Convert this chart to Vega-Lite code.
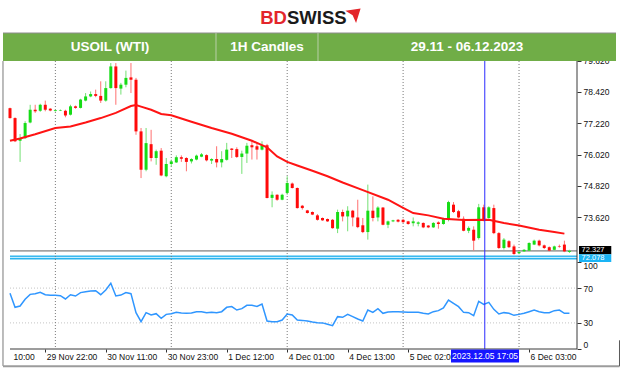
{
  "$schema": "https://vega.github.io/schema/vega-lite/v6.json",
  "width": 567,
  "height": 349,
  "autosize": {"type": "none"},
  "padding": {"left": 10, "top": 0, "right": 47, "bottom": 22},
  "background": "white",
  "config": {
    "view": {"stroke": null},
    "axis": {"labelFont": "Liberation Sans", "labelFontSize": 8.5, "labelColor": "#111111", "tickColor": "#333333", "domain": false, "grid": false, "zindex": 0, "labelFlush": false, "labelOverlap": false}
  },
  "datasets": {
    "candles": [
      {"i":0,"o":77.80,"h":77.82,"l":77.40,"c":77.42},
      {"i":1,"o":77.42,"h":77.45,"l":76.50,"c":76.53},
      {"i":2,"o":76.55,"h":76.81,"l":75.74,"c":76.65},
      {"i":3,"o":76.65,"h":77.30,"l":76.62,"c":77.23},
      {"i":4,"o":77.25,"h":77.93,"l":77.22,"c":77.74},
      {"i":5,"o":77.74,"h":77.93,"l":77.62,"c":77.68},
      {"i":6,"o":77.70,"h":77.97,"l":77.66,"c":77.93},
      {"i":7,"o":77.93,"h":78.09,"l":77.68,"c":77.74},
      {"i":8,"o":77.78,"h":77.80,"l":77.68,"c":77.71},
      {"i":9,"o":77.69,"h":77.74,"l":77.67,"c":77.72},
      {"i":10,"o":77.71,"h":77.75,"l":77.69,"c":77.73},
      {"i":11,"o":77.70,"h":77.74,"l":77.45,"c":77.52},
      {"i":12,"o":77.55,"h":77.93,"l":77.52,"c":77.87},
      {"i":13,"o":77.87,"h":77.90,"l":77.78,"c":77.81},
      {"i":14,"o":77.81,"h":78.16,"l":77.79,"c":78.13},
      {"i":15,"o":78.09,"h":78.38,"l":78.06,"c":78.25},
      {"i":16,"o":78.25,"h":78.44,"l":78.22,"c":78.34},
      {"i":17,"o":78.34,"h":78.51,"l":78.22,"c":78.27},
      {"i":18,"o":78.27,"h":78.83,"l":78.00,"c":78.09},
      {"i":19,"o":78.09,"h":78.83,"l":78.05,"c":78.57},
      {"i":20,"o":78.57,"h":79.53,"l":78.55,"c":79.40},
      {"i":21,"o":79.40,"h":79.53,"l":77.93,"c":78.57},
      {"i":22,"o":78.55,"h":78.77,"l":78.32,"c":78.70},
      {"i":23,"o":78.70,"h":79.24,"l":78.60,"c":78.96},
      {"i":24,"o":78.98,"h":79.53,"l":78.38,"c":78.89},
      {"i":25,"o":78.89,"h":78.96,"l":76.78,"c":76.91},
      {"i":26,"o":76.91,"h":77.04,"l":75.12,"c":75.44},
      {"i":27,"o":75.44,"h":77.04,"l":75.38,"c":76.46},
      {"i":28,"o":76.42,"h":76.97,"l":75.76,"c":75.89},
      {"i":29,"o":75.89,"h":76.21,"l":75.63,"c":76.15},
      {"i":30,"o":76.17,"h":76.27,"l":75.19,"c":75.22},
      {"i":31,"o":75.19,"h":75.89,"l":75.15,"c":75.66},
      {"i":32,"o":75.66,"h":75.83,"l":75.55,"c":75.76},
      {"i":33,"o":75.72,"h":75.99,"l":75.70,"c":75.92},
      {"i":34,"o":75.92,"h":75.99,"l":75.74,"c":75.86},
      {"i":35,"o":75.89,"h":75.92,"l":75.38,"c":75.74},
      {"i":36,"o":75.76,"h":75.88,"l":75.68,"c":75.85},
      {"i":37,"o":75.83,"h":76.02,"l":75.80,"c":75.98},
      {"i":38,"o":75.94,"h":76.08,"l":75.92,"c":76.03},
      {"i":39,"o":76.00,"h":76.03,"l":75.76,"c":75.80},
      {"i":40,"o":75.79,"h":75.88,"l":75.66,"c":75.85},
      {"i":41,"o":75.85,"h":76.34,"l":75.53,"c":75.72},
      {"i":42,"o":75.72,"h":76.15,"l":75.53,"c":75.85},
      {"i":43,"o":75.82,"h":76.47,"l":75.79,"c":76.21},
      {"i":44,"o":76.25,"h":76.27,"l":75.89,"c":76.20},
      {"i":45,"o":76.23,"h":76.30,"l":75.89,"c":75.93},
      {"i":46,"o":75.93,"h":76.17,"l":75.28,"c":76.06},
      {"i":47,"o":76.06,"h":76.47,"l":75.70,"c":76.36},
      {"i":48,"o":76.38,"h":76.55,"l":75.83,"c":76.30},
      {"i":49,"o":76.34,"h":76.47,"l":75.83,"c":76.21},
      {"i":50,"o":76.21,"h":76.53,"l":76.18,"c":76.38},
      {"i":51,"o":76.38,"h":76.43,"l":74.34,"c":74.36},
      {"i":52,"o":74.36,"h":74.61,"l":74.00,"c":74.48},
      {"i":53,"o":74.48,"h":74.50,"l":74.25,"c":74.29},
      {"i":54,"o":74.29,"h":74.52,"l":74.27,"c":74.48},
      {"i":55,"o":74.55,"h":75.19,"l":74.48,"c":74.93},
      {"i":56,"o":74.91,"h":74.95,"l":74.72,"c":74.74},
      {"i":57,"o":74.74,"h":74.76,"l":73.95,"c":73.97},
      {"i":58,"o":74.06,"h":74.09,"l":73.91,"c":73.97},
      {"i":59,"o":73.88,"h":73.90,"l":73.76,"c":73.78},
      {"i":60,"o":73.82,"h":73.84,"l":73.70,"c":73.72},
      {"i":61,"o":73.69,"h":73.74,"l":73.49,"c":73.52},
      {"i":62,"o":73.59,"h":73.61,"l":73.48,"c":73.50},
      {"i":63,"o":73.55,"h":73.57,"l":73.44,"c":73.46},
      {"i":64,"o":73.52,"h":73.55,"l":73.18,"c":73.20},
      {"i":65,"o":73.18,"h":73.91,"l":73.01,"c":73.82},
      {"i":66,"o":73.82,"h":73.91,"l":73.46,"c":73.65},
      {"i":67,"o":73.65,"h":74.04,"l":73.08,"c":73.87},
      {"i":68,"o":73.87,"h":73.90,"l":73.27,"c":73.61},
      {"i":69,"o":73.61,"h":74.29,"l":73.20,"c":73.24},
      {"i":70,"o":73.31,"h":73.59,"l":73.01,"c":73.05},
      {"i":71,"o":73.05,"h":74.87,"l":72.76,"c":73.87},
      {"i":72,"o":73.87,"h":74.42,"l":73.46,"c":73.59},
      {"i":73,"o":73.61,"h":74.04,"l":73.46,"c":73.99},
      {"i":74,"o":73.99,"h":74.01,"l":73.31,"c":73.33},
      {"i":75,"o":73.33,"h":73.49,"l":73.20,"c":73.46},
      {"i":76,"o":73.46,"h":73.52,"l":73.43,"c":73.50},
      {"i":77,"o":73.52,"h":73.55,"l":73.42,"c":73.45},
      {"i":78,"o":73.52,"h":73.56,"l":73.40,"c":73.43},
      {"i":79,"o":73.46,"h":73.48,"l":73.33,"c":73.36},
      {"i":80,"o":73.39,"h":73.61,"l":73.27,"c":73.46},
      {"i":81,"o":73.37,"h":73.46,"l":73.27,"c":73.42},
      {"i":82,"o":73.40,"h":73.42,"l":73.20,"c":73.23},
      {"i":83,"o":73.30,"h":73.32,"l":73.20,"c":73.23},
      {"i":84,"o":73.23,"h":73.43,"l":73.21,"c":73.40},
      {"i":85,"o":73.42,"h":73.46,"l":73.18,"c":73.36},
      {"i":86,"o":73.36,"h":73.60,"l":73.33,"c":73.55},
      {"i":87,"o":73.55,"h":74.25,"l":73.46,"c":74.20},
      {"i":88,"o":74.10,"h":74.20,"l":73.78,"c":73.82},
      {"i":89,"o":73.85,"h":73.90,"l":73.58,"c":73.61},
      {"i":90,"o":73.56,"h":73.65,"l":73.08,"c":73.10},
      {"i":91,"o":73.10,"h":73.27,"l":73.01,"c":73.21},
      {"i":92,"o":73.14,"h":73.27,"l":72.34,"c":72.72},
      {"i":93,"o":72.82,"h":74.13,"l":72.76,"c":74.00},
      {"i":94,"o":74.00,"h":74.10,"l":73.46,"c":73.52},
      {"i":95,"o":73.59,"h":74.04,"l":73.56,"c":74.00},
      {"i":96,"o":73.97,"h":74.10,"l":72.97,"c":73.01},
      {"i":97,"o":73.01,"h":73.05,"l":72.40,"c":72.44},
      {"i":98,"o":72.44,"h":72.82,"l":72.38,"c":72.76},
      {"i":99,"o":72.70,"h":72.74,"l":72.44,"c":72.47},
      {"i":100,"o":72.50,"h":72.57,"l":72.18,"c":72.21},
      {"i":101,"o":72.24,"h":72.31,"l":72.20,"c":72.29},
      {"i":102,"o":72.31,"h":72.40,"l":72.29,"c":72.37},
      {"i":103,"o":72.34,"h":72.66,"l":72.32,"c":72.63},
      {"i":104,"o":72.57,"h":72.76,"l":72.55,"c":72.72},
      {"i":105,"o":72.72,"h":72.76,"l":72.50,"c":72.54},
      {"i":106,"o":72.54,"h":72.57,"l":72.40,"c":72.44},
      {"i":107,"o":72.47,"h":72.50,"l":72.31,"c":72.34},
      {"i":108,"o":72.37,"h":72.53,"l":72.34,"c":72.50},
      {"i":109,"o":72.50,"h":72.57,"l":72.45,"c":72.48},
      {"i":110,"o":72.57,"h":72.72,"l":72.28,"c":72.31},
      {"i":111,"o":72.29,"h":72.37,"l":72.25,"c":72.33}
    ],
    "ma": [
      {"i":0,"v":76.55},{"i":2,"v":76.64},{"i":5,"v":76.80},{"i":9,"v":77.04},{"i":12,"v":77.10},
      {"i":15,"v":77.25},{"i":18,"v":77.42},{"i":21,"v":77.62},{"i":24,"v":77.88},{"i":25,"v":77.92},
      {"i":26,"v":77.86},{"i":28,"v":77.74},{"i":30,"v":77.58},{"i":32,"v":77.53},{"i":36,"v":77.28},
      {"i":40,"v":77.04},{"i":44,"v":76.82},{"i":48,"v":76.55},{"i":50,"v":76.38},{"i":51,"v":76.30},
      {"i":53,"v":75.95},{"i":55,"v":75.74},{"i":57,"v":75.60},{"i":60,"v":75.40},{"i":63,"v":75.19},
      {"i":66,"v":74.95},{"i":70,"v":74.66},{"i":75,"v":74.29},{"i":78,"v":73.98},{"i":80,"v":73.78},
      {"i":83,"v":73.69},{"i":86,"v":73.56},{"i":90,"v":73.51},{"i":95,"v":73.52},{"i":98,"v":73.40},
      {"i":101,"v":73.30},{"i":105,"v":73.14},{"i":108,"v":73.05},{"i":110,"v":72.99}
    ],
    "rsi": [
      {"i":0,"r":64.0},{"i":1,"r":47.9},{"i":2,"r":49.4},{"i":3,"r":57.1},{"i":4,"r":62.8},
      {"i":5,"r":63.6},{"i":6,"r":65.1},{"i":7,"r":62.4},{"i":8,"r":61.7},{"i":9,"r":61.7},
      {"i":10,"r":61.3},{"i":11,"r":57.5},{"i":12,"r":62.4},{"i":13,"r":60.9},{"i":14,"r":64.8},
      {"i":15,"r":65.9},{"i":16,"r":66.7},{"i":17,"r":67.0},{"i":18,"r":62.4},{"i":19,"r":67.8},
      {"i":20,"r":75.5},{"i":21,"r":60.9},{"i":22,"r":62.0},{"i":23,"r":64.8},{"i":24,"r":63.6},
      {"i":25,"r":41.8},{"i":26,"r":31.4},{"i":27,"r":41.8},{"i":28,"r":39.1},{"i":29,"r":40.6},
      {"i":30,"r":35.2},{"i":31,"r":39.8},{"i":32,"r":40.6},{"i":33,"r":42.1},{"i":34,"r":41.4},
      {"i":35,"r":41.0},{"i":36,"r":41.4},{"i":37,"r":42.9},{"i":38,"r":42.9},{"i":39,"r":41.8},
      {"i":40,"r":42.1},{"i":41,"r":41.8},{"i":42,"r":42.9},{"i":43,"r":47.9},{"i":44,"r":48.7},
      {"i":45,"r":44.8},{"i":46,"r":46.4},{"i":47,"r":50.2},{"i":48,"r":50.2},{"i":49,"r":49.0},
      {"i":50,"r":51.7},{"i":51,"r":32.2},{"i":52,"r":31.4},{"i":53,"r":31.4},{"i":54,"r":33.3},
      {"i":55,"r":40.2},{"i":56,"r":39.1},{"i":57,"r":33.3},{"i":58,"r":32.9},{"i":59,"r":32.2},
      {"i":60,"r":31.0},{"i":61,"r":30.3},{"i":62,"r":30.0},{"i":63,"r":28.4},{"i":64,"r":26.8},
      {"i":65,"r":37.2},{"i":66,"r":36.4},{"i":67,"r":39.8},{"i":68,"r":37.2},{"i":69,"r":34.5},
      {"i":70,"r":32.2},{"i":71,"r":44.8},{"i":72,"r":42.1},{"i":73,"r":46.4},{"i":74,"r":41.0},
      {"i":75,"r":42.5},{"i":76,"r":42.9},{"i":77,"r":42.9},{"i":78,"r":42.5},{"i":79,"r":42.1},
      {"i":80,"r":42.1},{"i":81,"r":42.1},{"i":82,"r":41.0},{"i":83,"r":40.2},{"i":84,"r":42.9},
      {"i":85,"r":44.1},{"i":86,"r":47.1},{"i":87,"r":56.3},{"i":88,"r":52.5},{"i":89,"r":48.7},
      {"i":90,"r":42.1},{"i":91,"r":41.8},{"i":92,"r":38.3},{"i":93,"r":54.8},{"i":94,"r":51.3},
      {"i":95,"r":53.6},{"i":96,"r":45.6},{"i":97,"r":40.2},{"i":98,"r":41.8},{"i":99,"r":41.0},
      {"i":100,"r":38.7},{"i":101,"r":39.8},{"i":102,"r":41.0},{"i":103,"r":42.9},{"i":104,"r":44.8},
      {"i":105,"r":42.9},{"i":106,"r":41.8},{"i":107,"r":41.8},{"i":108,"r":44.1},{"i":109,"r":44.8},
      {"i":110,"r":41.0},{"i":111,"r":41.0}
    ],
    "days": [{"i":9},{"i":32},{"i":55},{"i":78},{"i":101}]
  },
  "layer": [
    {
      "data": {"values": [{"p": 72.327}]},
      "mark": {"type": "rule", "color": "#5f5f5f", "strokeWidth": 1},
      "encoding": {
        "x": {"datum": 0, "type": "quantitative", "scale": {"domain": [0, 112.5], "nice": false, "zero": false, "padding": 0}, "axis": null},
        "x2": {"datum": 112.5},
        "y": {"field": "p", "type": "quantitative", "scale": {"domain": [68.567, 81.947], "nice": false, "zero": false}, "axis": null}
      }
    },
    {
      "data": {"values": [{"p": 72.078}]},
      "mark": {"type": "rule", "color": "#2ab4ee", "strokeWidth": 4},
      "encoding": {
        "x": {"datum": 0, "type": "quantitative", "scale": {"domain": [0, 112.5], "nice": false, "zero": false, "padding": 0}, "axis": null},
        "x2": {"datum": 112.5},
        "y": {"field": "p", "type": "quantitative", "scale": {"domain": [68.567, 81.947], "nice": false, "zero": false}, "axis": null}
      }
    },
    {
      "data": {"values": [{"p": 72.078}]},
      "mark": {"type": "rule", "color": "#d8f3ff", "strokeWidth": 1},
      "encoding": {
        "x": {"datum": 0, "type": "quantitative", "scale": {"domain": [0, 112.5], "nice": false, "zero": false, "padding": 0}, "axis": null},
        "x2": {"datum": 112.5},
        "y": {"field": "p", "type": "quantitative", "scale": {"domain": [68.567, 81.947], "nice": false, "zero": false}, "axis": null}
      }
    },
    {
      "data": {"values": [{"r": 70}, {"r": 30}]},
      "mark": {"type": "rule", "color": "#c4c4c4", "strokeDash": [1, 2], "strokeWidth": 1},
      "encoding": {
        "x": {"datum": 0, "type": "quantitative", "scale": {"domain": [0, 112.5], "nice": false, "zero": false, "padding": 0}, "axis": null},
        "x2": {"datum": 112.5},
        "y": {"field": "r", "type": "quantitative", "scale": {"domain": [0, 401.149], "nice": false, "zero": false}, "axis": null}
      }
    },
    {
      "data": {"name": "days"},
      "mark": {"type": "rule", "color": "#777777", "strokeDash": [1, 2], "strokeWidth": 1},
      "encoding": {
        "x": {"field": "i", "type": "quantitative", "scale": {"domain": [0, 112.5], "nice": false, "zero": false, "padding": 0}, "axis": null},
        "y": {"datum": 331.0, "type": "quantitative", "scale": {"domain": [0, 401.149], "nice": false, "zero": false}, "axis": null},
        "y2": {"datum": 0}
      }
    },
    {
      "data": {"name": "candles"},
      "mark": {"type": "rule", "strokeWidth": 1},
      "encoding": {
        "x": {"field": "i", "type": "quantitative", "scale": {"domain": [0, 112.5], "nice": false, "zero": false, "padding": 0}, "axis": null},
        "y": {"field": "l", "type": "quantitative", "scale": {"domain": [68.567, 81.947], "nice": false, "zero": false},
              "axis": {"orient": "right", "values": [79.62, 78.42, 77.22, 76.02, 74.82, 73.62], "format": ".3f", "tickSize": 4, "labelPadding": 2, "title": null}},
        "y2": {"field": "h"},
        "color": {"condition": {"test": "datum.c >= datum.o", "value": "#74e074"}, "value": "#ff7070"}
      }
    },
    {
      "data": {"name": "candles"},
      "mark": {"type": "bar", "size": 3},
      "encoding": {
        "x": {"field": "i", "type": "quantitative", "scale": {"domain": [0, 112.5], "nice": false, "zero": false, "padding": 0}, "axis": null},
        "y": {"field": "o", "type": "quantitative", "scale": {"domain": [68.567, 81.947], "nice": false, "zero": false}, "axis": null},
        "y2": {"field": "c"},
        "color": {"condition": {"test": "datum.c >= datum.o", "value": "#16dc16"}, "value": "#ff0a0a"}
      }
    },
    {
      "data": {"name": "ma"},
      "mark": {"type": "line", "color": "#ff1414", "strokeWidth": 2},
      "encoding": {
        "x": {"field": "i", "type": "quantitative", "scale": {"domain": [0, 112.5], "nice": false, "zero": false, "padding": 0}, "axis": null},
        "y": {"field": "v", "type": "quantitative", "scale": {"domain": [68.567, 81.947], "nice": false, "zero": false}, "axis": null}
      }
    },
    {
      "data": {"name": "rsi"},
      "mark": {"type": "line", "color": "#2f96ff", "strokeWidth": 1.5},
      "encoding": {
        "x": {"field": "i", "type": "quantitative", "scale": {"domain": [0, 112.5], "nice": false, "zero": false, "padding": 0},
              "axis": {"orient": "bottom", "values": [0.4, 7, 19, 31, 43, 55, 67, 79, 103], "title": null,
                       "labelExpr": "datum.value < 1 ? '10:00' : datum.value == 7 ? '29 Nov 22:00' : datum.value == 19 ? '30 Nov 11:00' : datum.value == 31 ? '30 Nov 23:00' : datum.value == 43 ? '1 Dec 12:00' : datum.value == 55 ? '4 Dec 01:00' : datum.value == 67 ? '4 Dec 13:00' : datum.value == 79 ? '5 Dec 02:00' : '6 Dec 03:00'",
                       "labelAlign": "left", "labelBaseline": "top", "tickSize": 3, "labelPadding": 0, "labelOffset": 1,
                       "tickOpacity": {"condition": {"test": "datum.value < 1", "value": 0}, "value": 1}}},
        "y": {"field": "r", "type": "quantitative", "scale": {"domain": [0, 401.149], "nice": false, "zero": false},
              "axis": {"orient": "right", "values": [0, 30, 70, 100], "tickSize": 4, "labelPadding": 2, "title": null,
                       "labelBaseline": {"condition": [{"test": "datum.value == 100", "value": "top"}, {"test": "datum.value == 0", "value": "bottom"}], "value": "middle"}}}
      }
    },
    {
      "data": {"values": [{}]},
      "mark": {"type": "rule", "color": "#2b2bff", "strokeWidth": 1},
      "encoding": {
        "x": {"datum": 94.2, "type": "quantitative", "scale": {"domain": [0, 112.5], "nice": false, "zero": false, "padding": 0}, "axis": null},
        "y": {"datum": 332.2, "type": "quantitative", "scale": {"domain": [0, 401.149], "nice": false, "zero": false}, "axis": null},
        "y2": {"datum": 0}
      }
    },
    {
      "data": {"values": [{}]},
      "mark": {"type": "rule", "color": "#3a3a3a", "strokeWidth": 1},
      "encoding": {
        "x": {"datum": 112.5, "type": "quantitative", "scale": {"domain": [0, 112.5], "nice": false, "zero": false, "padding": 0}, "axis": null},
        "y": {"datum": 332.2, "type": "quantitative", "scale": {"domain": [0, 401.149], "nice": false, "zero": false}, "axis": null},
        "y2": {"datum": 0}
      }
    },
    {
      "data": {"values": [{}]},
      "mark": {"type": "rule", "color": "#3a3a3a", "strokeWidth": 1},
      "encoding": {
        "x": {"datum": 0, "type": "quantitative", "scale": {"domain": [0, 112.5], "nice": false, "zero": false, "padding": 0}, "axis": null},
        "x2": {"datum": 112.5},
        "y": {"datum": 0, "type": "quantitative", "scale": {"domain": [0, 401.149], "nice": false, "zero": false}, "axis": null}
      }
    },
    {
      "data": {"values": [{}]},
      "mark": {"type": "rule", "color": "#7a7a7a", "strokeWidth": 1},
      "encoding": {
        "x": {"datum": -1.39, "type": "quantitative", "scale": {"domain": [0, 112.5], "nice": false, "zero": false, "padding": 0}, "axis": null},
        "y": {"datum": 331.0, "type": "quantitative", "scale": {"domain": [0, 401.149], "nice": false, "zero": false}, "axis": null},
        "y2": {"datum": -19.5}
      }
    },
    {
      "data": {"values": [{}]},
      "mark": {"type": "rule", "color": "#9c9c9c", "strokeWidth": 2},
      "encoding": {
        "x": {"datum": -1.39, "type": "quantitative", "scale": {"domain": [0, 112.5], "nice": false, "zero": false, "padding": 0}, "axis": null},
        "x2": {"datum": 120.93},
        "y": {"datum": -19.8, "type": "quantitative", "scale": {"domain": [0, 401.149], "nice": false, "zero": false}, "axis": null}
      }
    },
    {
      "data": {"values": [{}]},
      "mark": {"type": "rule", "color": "#5a5a5a", "strokeWidth": 1},
      "encoding": {
        "x": {"datum": 120.93, "type": "quantitative", "scale": {"domain": [0, 112.5], "nice": false, "zero": false, "padding": 0}, "axis": null},
        "y": {"datum": 10, "type": "quantitative", "scale": {"domain": [0, 401.149], "nice": false, "zero": false}, "axis": null},
        "y2": {"datum": -19.8}
      }
    },
    {
      "data": {"values": [{}]},
      "mark": {"type": "rect", "color": "#000000"},
      "encoding": {
        "x": {"datum": 112.9, "type": "quantitative", "scale": {"domain": [0, 112.5], "nice": false, "zero": false, "padding": 0}, "axis": null},
        "x2": {"datum": 119.3},
        "y": {"datum": 72.52, "type": "quantitative", "scale": {"domain": [68.567, 81.947], "nice": false, "zero": false}, "axis": null},
        "y2": {"datum": 72.20}
      }
    },
    {
      "data": {"values": [{}]},
      "mark": {"type": "rect", "color": "#1ab4f5"},
      "encoding": {
        "x": {"datum": 112.9, "type": "quantitative", "scale": {"domain": [0, 112.5], "nice": false, "zero": false, "padding": 0}, "axis": null},
        "x2": {"datum": 119.3},
        "y": {"datum": 72.20, "type": "quantitative", "scale": {"domain": [68.567, 81.947], "nice": false, "zero": false}, "axis": null},
        "y2": {"datum": 71.90}
      }
    },
    {
      "data": {"values": [{"p": 72.327, "at": 72.365}, {"p": 72.078, "at": 72.045}]},
      "mark": {"type": "text", "color": "white", "font": "Liberation Sans", "fontSize": 7.5, "align": "left", "baseline": "middle"},
      "encoding": {
        "x": {"datum": 113.4, "type": "quantitative", "scale": {"domain": [0, 112.5], "nice": false, "zero": false, "padding": 0}, "axis": null},
        "y": {"field": "at", "type": "quantitative", "scale": {"domain": [68.567, 81.947], "nice": false, "zero": false}, "axis": null},
        "text": {"field": "p", "type": "quantitative", "format": ".3f"}
      }
    },
    {
      "data": {"values": [{}]},
      "mark": {"type": "rect", "color": "#1616ff"},
      "encoding": {
        "x": {"datum": 87.5, "type": "quantitative", "scale": {"domain": [0, 112.5], "nice": false, "zero": false, "padding": 0}, "axis": null},
        "x2": {"datum": 101},
        "y": {"datum": -0.6, "type": "quantitative", "scale": {"domain": [0, 401.149], "nice": false, "zero": false}, "axis": null},
        "y2": {"datum": -15.5}
      }
    },
    {
      "data": {"values": [{"t": "2023.12.05 17:05"}]},
      "mark": {"type": "text", "color": "white", "font": "Liberation Sans", "fontSize": 8.5, "align": "center", "baseline": "middle"},
      "encoding": {
        "x": {"datum": 94.25, "type": "quantitative", "scale": {"domain": [0, 112.5], "nice": false, "zero": false, "padding": 0}, "axis": null},
        "y": {"datum": -8, "type": "quantitative", "scale": {"domain": [0, 401.149], "nice": false, "zero": false}, "axis": null},
        "text": {"field": "t"}
      }
    },
    {
      "data": {"values": [{}]},
      "mark": {"type": "rect", "color": "#70ad47"},
      "encoding": {
        "x": {"datum": -1.389, "type": "quantitative", "scale": {"domain": [0, 112.5], "nice": false, "zero": false, "padding": 0}, "axis": null},
        "x2": {"datum": 120.24},
        "y": {"datum": 9.456, "type": "quantitative", "scale": {"domain": [0, 100], "nice": false, "zero": false, "reverse": true}, "axis": null},
        "y2": {"datum": 17.479}
      }
    },
    {
      "data": {"values": [{}]},
      "mark": {"type": "rule", "color": "#8c8c8c", "strokeWidth": 1},
      "encoding": {
        "x": {"datum": -1.389, "type": "quantitative", "scale": {"domain": [0, 112.5], "nice": false, "zero": false, "padding": 0}, "axis": null},
        "x2": {"datum": 120.24},
        "y": {"datum": 9.456, "type": "quantitative", "scale": {"domain": [0, 100], "nice": false, "zero": false, "reverse": true}, "axis": null}
      }
    },
    {
      "data": {"values": [{"s": 40.873}, {"s": 61.111}]},
      "mark": {"type": "rule", "color": "#b9cfa9", "strokeWidth": 1},
      "encoding": {
        "x": {"field": "s", "type": "quantitative", "scale": {"domain": [0, 112.5], "nice": false, "zero": false, "padding": 0}, "axis": null},
        "y": {"datum": 9.456, "type": "quantitative", "scale": {"domain": [0, 100], "nice": false, "zero": false, "reverse": true}, "axis": null},
        "y2": {"datum": 17.479}
      }
    },
    {
      "data": {"values": [{"t": "USOIL (WTI)", "at": 19.841}, {"t": "1H Candles", "at": 50.992}, {"t": "29.11 - 06.12.2023", "at": 90.675}]},
      "mark": {"type": "text", "color": "white", "font": "Liberation Sans", "fontWeight": "bold", "fontSize": 13.5, "align": "center", "baseline": "middle"},
      "encoding": {
        "x": {"field": "at", "type": "quantitative", "scale": {"domain": [0, 112.5], "nice": false, "zero": false, "padding": 0}, "axis": null},
        "y": {"datum": 13.61, "type": "quantitative", "scale": {"domain": [0, 100], "nice": false, "zero": false, "reverse": true}, "axis": null},
        "text": {"field": "t"}
      }
    },
    {
      "data": {"values": [{"t": "BD"}]},
      "mark": {"type": "text", "color": "#e3262b", "font": "Liberation Sans", "fontWeight": "bold", "fontSize": 18.5, "align": "right", "baseline": "alphabetic"},
      "encoding": {
        "x": {"datum": 54.96, "type": "quantitative", "scale": {"domain": [0, 112.5], "nice": false, "zero": false, "padding": 0}, "axis": null},
        "y": {"datum": 7.02, "type": "quantitative", "scale": {"domain": [0, 100], "nice": false, "zero": false, "reverse": true}, "axis": null},
        "text": {"field": "t"}
      }
    },
    {
      "data": {"values": [{"t": "SWISS"}]},
      "mark": {"type": "text", "color": "#1a1a1a", "font": "Liberation Sans", "fontWeight": "bold", "fontSize": 18.5, "align": "left", "baseline": "alphabetic"},
      "encoding": {
        "x": {"datum": 54.96, "type": "quantitative", "scale": {"domain": [0, 112.5], "nice": false, "zero": false, "padding": 0}, "axis": null},
        "y": {"datum": 7.02, "type": "quantitative", "scale": {"domain": [0, 100], "nice": false, "zero": false, "reverse": true}, "axis": null},
        "text": {"field": "t"}
      }
    },
    {
      "data": {"values": [{}]},
      "mark": {"type": "point", "filled": true, "color": "#e3262b", "opacity": 1, "size": 230, "shape": "M-1,-0.7 L1,-1 L0.4,0.9 L-0.05,-0.1 Z"},
      "encoding": {
        "x": {"datum": 68.06, "type": "quantitative", "scale": {"domain": [0, 112.5], "nice": false, "zero": false, "padding": 0}, "axis": null},
        "y": {"datum": 4.6, "type": "quantitative", "scale": {"domain": [0, 100], "nice": false, "zero": false, "reverse": true}, "axis": null}
      }
    }
  ],
  "resolve": {"scale": {"x": "independent", "y": "independent"}}
}
